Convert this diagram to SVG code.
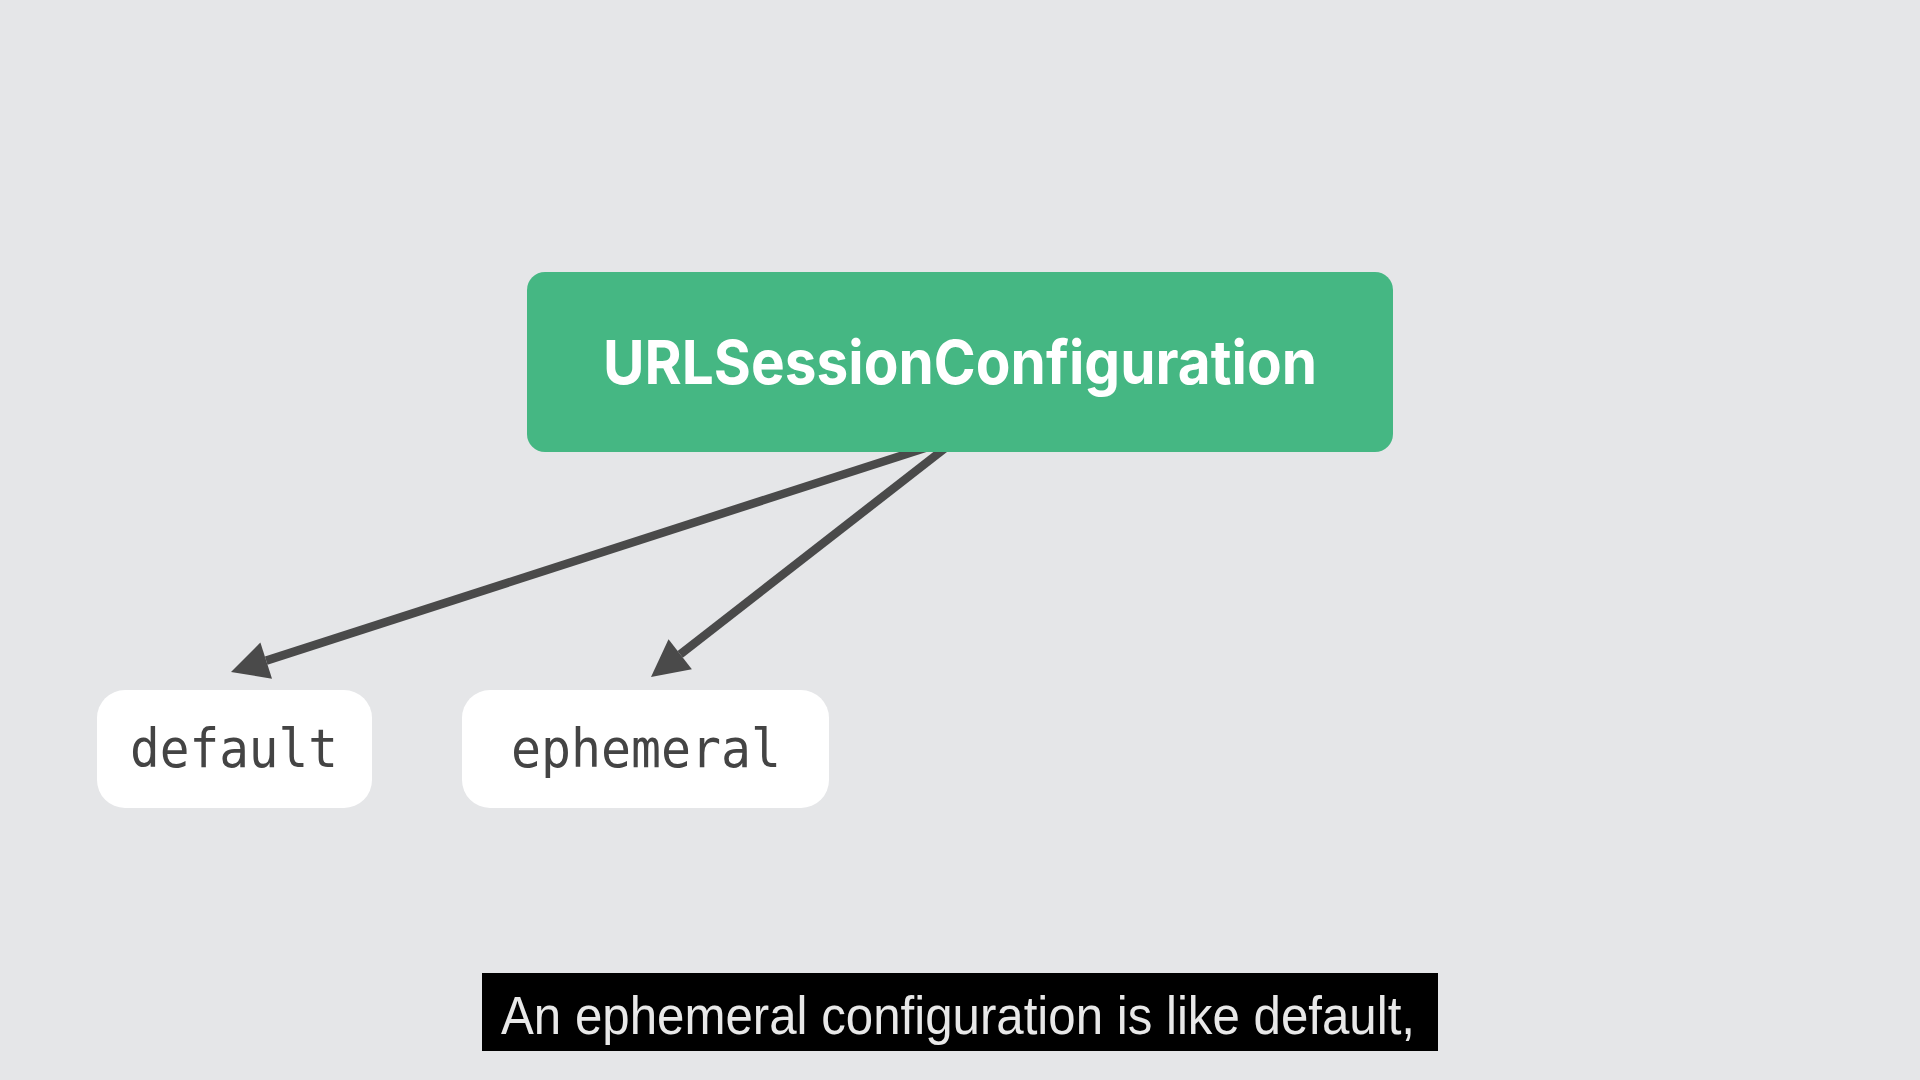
<svg xmlns="http://www.w3.org/2000/svg" width="1920" height="1080" viewBox="0 0 1920 1080">
<style>
.bg{fill:#e5e6e8}
.conn{stroke:#4a4a4a;stroke-width:8.5;fill:none;marker-end:url(#ah)}
.leaf rect{fill:#ffffff}
.leaf text{font-family:"DejaVu Sans Mono","Liberation Mono",monospace;font-size:54px;fill:#444444;text-anchor:middle}
.root rect{fill:#45b783}
.root text{font-family:Inter,"Liberation Sans",sans-serif;font-weight:700;font-size:61px;fill:#ffffff;text-anchor:middle}
.cap rect{fill:#000000}
.cap text{font-family:"Liberation Sans",Arial,sans-serif;font-size:53px;fill:#e8e8e8;text-anchor:middle}
</style>
<defs>
<marker id="ah" markerUnits="userSpaceOnUse" markerWidth="40" markerHeight="40" refX="0" refY="19" orient="auto" overflow="visible">
<path d="M0,0 L37,19 L0,38 z" fill="#4a4a4a"/>
</marker>
</defs>
<rect class="bg" x="0" y="0" width="1920" height="1080"/>
<g id="connectors">
<line class="conn" x1="950" y1="440" x2="266.2" y2="660.6"/>
<line class="conn" x1="955.6" y1="440" x2="680.2" y2="654.3"/>
</g>
<g id="node-root" class="root">
<rect x="527" y="272" width="866" height="180" rx="18"/>
<text x="960" y="384" textLength="714" lengthAdjust="spacingAndGlyphs">URLSessionConfiguration</text>
</g>
<g id="node-default" class="leaf">
<rect x="97" y="690" width="275" height="118" rx="28"/>
<text x="234" y="767" textLength="208" lengthAdjust="spacingAndGlyphs">default</text>
</g>
<g id="node-ephemeral" class="leaf">
<rect x="462" y="690" width="367" height="118" rx="28"/>
<text x="646" y="767" textLength="270" lengthAdjust="spacingAndGlyphs">ephemeral</text>
</g>
<g id="caption" class="cap">
<rect x="482" y="973" width="956" height="78"/>
<text x="958" y="1034" textLength="914" lengthAdjust="spacingAndGlyphs">An ephemeral configuration is like default,</text>
</g>
</svg>
